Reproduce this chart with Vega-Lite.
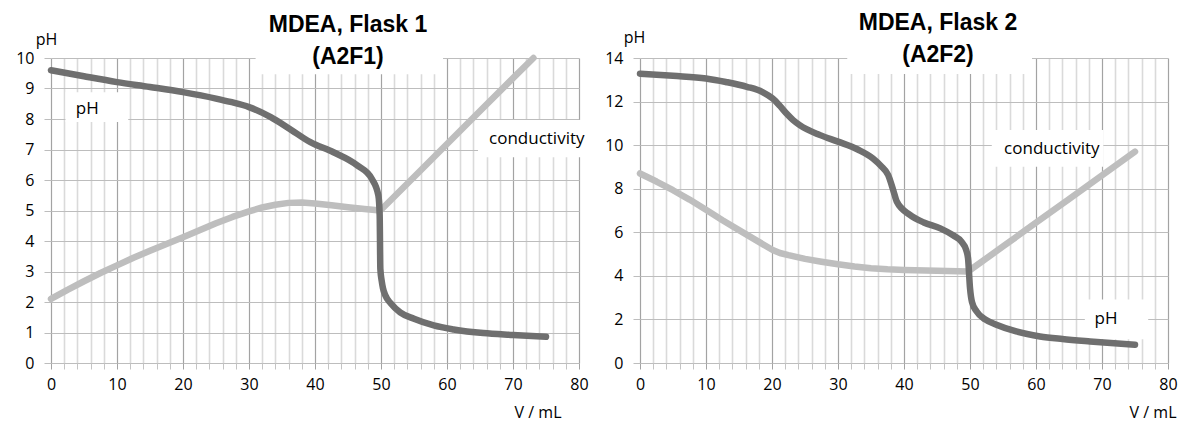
{
  "$schema": "https://vega.github.io/schema/vega-lite/v6.json",
  "background": "white",
  "padding": {"left": 15, "top": 12, "right": 5, "bottom": 5},
  "bounds": "flush",
  "spacing": 61,
  "config": {
    "view": {"stroke": null},
    "font": "Open Sans",
    "axis": {
      "domain": false,
      "grid": true,
      "labelFont": "Open Sans",
      "labelFontSize": 16,
      "labelColor": "#000000",
      "titleFont": "Open Sans",
      "titleFontSize": 16,
      "titleFontWeight": "normal",
      "titleColor": "#000000"
    },
    "axisX": {
      "gridColor": {"condition": {"test": "datum.value % 10 === 0", "value": "#a3a3a3"}, "value": "#dadada"},
      "gridWidth": {"condition": {"test": "datum.value % 10 === 0", "value": 1.2}, "value": 1.6},
      "tickColor": {"condition": {"test": "datum.value % 10 === 0", "value": "#a3a3a3"}, "value": "#c4c4c4"},
      "tickSize": 6,
      "labelPadding": 7,
      "labelExpr": "datum.value % 10 === 0 ? datum.label : ''",
      "labelFlush": false,
      "labelOverlap": false,
      "titleAlign": "right",
      "titleBaseline": "middle",
      "titleY": 49
    },
    "axisY": {
      "gridColor": "#bdbdbd",
      "gridWidth": 1.2,
      "tickColor": "#bdbdbd",
      "tickSize": 7,
      "labelPadding": 10,
      "titleAngle": 0,
      "titleAlign": "center",
      "titleBaseline": "middle"
    }
  },
  "datasets": {
    "flask1": [
      {"V": 0, "value": 9.6, "series": "pH"},
      {"V": 5, "value": 9.4, "series": "pH"},
      {"V": 10, "value": 9.21, "series": "pH"},
      {"V": 15, "value": 9.05, "series": "pH"},
      {"V": 20, "value": 8.88, "series": "pH"},
      {"V": 25, "value": 8.67, "series": "pH"},
      {"V": 27.2, "value": 8.56, "series": "pH"},
      {"V": 30, "value": 8.39, "series": "pH"},
      {"V": 33.3, "value": 8.06, "series": "pH"},
      {"V": 36, "value": 7.7, "series": "pH"},
      {"V": 39.3, "value": 7.24, "series": "pH"},
      {"V": 42.8, "value": 6.91, "series": "pH"},
      {"V": 46.4, "value": 6.48, "series": "pH"},
      {"V": 48.6, "value": 6.04, "series": "pH"},
      {"V": 49.6, "value": 5.5, "series": "pH"},
      {"V": 49.8, "value": 4.85, "series": "pH"},
      {"V": 49.9, "value": 3.09, "series": "pH"},
      {"V": 50.1, "value": 2.7, "series": "pH"},
      {"V": 50.3, "value": 2.45, "series": "pH"},
      {"V": 50.65, "value": 2.22, "series": "pH"},
      {"V": 51.5, "value": 1.95, "series": "pH"},
      {"V": 52.9, "value": 1.66, "series": "pH"},
      {"V": 55, "value": 1.45, "series": "pH"},
      {"V": 58, "value": 1.23, "series": "pH"},
      {"V": 61, "value": 1.1, "series": "pH"},
      {"V": 65.5, "value": 0.98, "series": "pH"},
      {"V": 70, "value": 0.92, "series": "pH"},
      {"V": 75, "value": 0.86, "series": "pH"},
      {"V": 0, "value": 2.1, "series": "conductivity"},
      {"V": 2.5, "value": 2.4, "series": "conductivity"},
      {"V": 5, "value": 2.68, "series": "conductivity"},
      {"V": 7.5, "value": 2.95, "series": "conductivity"},
      {"V": 10, "value": 3.2, "series": "conductivity"},
      {"V": 12.5, "value": 3.45, "series": "conductivity"},
      {"V": 15, "value": 3.68, "series": "conductivity"},
      {"V": 17.5, "value": 3.9, "series": "conductivity"},
      {"V": 20, "value": 4.12, "series": "conductivity"},
      {"V": 22.5, "value": 4.35, "series": "conductivity"},
      {"V": 25, "value": 4.58, "series": "conductivity"},
      {"V": 27.5, "value": 4.79, "series": "conductivity"},
      {"V": 30, "value": 4.97, "series": "conductivity"},
      {"V": 32, "value": 5.1, "series": "conductivity"},
      {"V": 34, "value": 5.19, "series": "conductivity"},
      {"V": 36, "value": 5.25, "series": "conductivity"},
      {"V": 38, "value": 5.26, "series": "conductivity"},
      {"V": 40, "value": 5.23, "series": "conductivity"},
      {"V": 42.5, "value": 5.17, "series": "conductivity"},
      {"V": 45, "value": 5.11, "series": "conductivity"},
      {"V": 47.5, "value": 5.05, "series": "conductivity"},
      {"V": 49.9, "value": 5.0, "series": "conductivity"},
      {"V": 55, "value": 6.1, "series": "conductivity"},
      {"V": 60, "value": 7.18, "series": "conductivity"},
      {"V": 65, "value": 8.26, "series": "conductivity"},
      {"V": 70, "value": 9.34, "series": "conductivity"},
      {"V": 73.1, "value": 10.0, "series": "conductivity"}
    ],
    "flask2": [
      {"V": 0, "value": 13.28, "series": "pH"},
      {"V": 5, "value": 13.18, "series": "pH"},
      {"V": 10, "value": 13.06, "series": "pH"},
      {"V": 13, "value": 12.9, "series": "pH"},
      {"V": 16.2, "value": 12.68, "series": "pH"},
      {"V": 18.5, "value": 12.45, "series": "pH"},
      {"V": 20.1, "value": 12.14, "series": "pH"},
      {"V": 21.2, "value": 11.8, "series": "pH"},
      {"V": 22.2, "value": 11.45, "series": "pH"},
      {"V": 23.2, "value": 11.15, "series": "pH"},
      {"V": 24.2, "value": 10.92, "series": "pH"},
      {"V": 27.3, "value": 10.46, "series": "pH"},
      {"V": 30, "value": 10.16, "series": "pH"},
      {"V": 33, "value": 9.8, "series": "pH"},
      {"V": 35.3, "value": 9.39, "series": "pH"},
      {"V": 36.5, "value": 9.05, "series": "pH"},
      {"V": 37.6, "value": 8.63, "series": "pH"},
      {"V": 38.4, "value": 7.9, "series": "pH"},
      {"V": 38.9, "value": 7.41, "series": "pH"},
      {"V": 40.9, "value": 6.8, "series": "pH"},
      {"V": 43, "value": 6.45, "series": "pH"},
      {"V": 45.5, "value": 6.18, "series": "pH"},
      {"V": 47.5, "value": 5.85, "series": "pH"},
      {"V": 48.7, "value": 5.57, "series": "pH"},
      {"V": 49.4, "value": 5.2, "series": "pH"},
      {"V": 49.7, "value": 4.81, "series": "pH"},
      {"V": 50, "value": 3.44, "series": "pH"},
      {"V": 50.3, "value": 2.8, "series": "pH"},
      {"V": 51, "value": 2.37, "series": "pH"},
      {"V": 52.3, "value": 2.0, "series": "pH"},
      {"V": 54, "value": 1.76, "series": "pH"},
      {"V": 57, "value": 1.45, "series": "pH"},
      {"V": 60.6, "value": 1.22, "series": "pH"},
      {"V": 64, "value": 1.1, "series": "pH"},
      {"V": 68.2, "value": 0.99, "series": "pH"},
      {"V": 75, "value": 0.84, "series": "pH"},
      {"V": 0, "value": 8.7, "series": "conductivity"},
      {"V": 2.5, "value": 8.33, "series": "conductivity"},
      {"V": 5, "value": 7.93, "series": "conductivity"},
      {"V": 7.5, "value": 7.5, "series": "conductivity"},
      {"V": 10, "value": 7.03, "series": "conductivity"},
      {"V": 12.5, "value": 6.55, "series": "conductivity"},
      {"V": 15, "value": 6.1, "series": "conductivity"},
      {"V": 17.5, "value": 5.65, "series": "conductivity"},
      {"V": 20.1, "value": 5.19, "series": "conductivity"},
      {"V": 21.2, "value": 5.05, "series": "conductivity"},
      {"V": 22.5, "value": 4.95, "series": "conductivity"},
      {"V": 25, "value": 4.78, "series": "conductivity"},
      {"V": 27.5, "value": 4.65, "series": "conductivity"},
      {"V": 30, "value": 4.53, "series": "conductivity"},
      {"V": 32.5, "value": 4.43, "series": "conductivity"},
      {"V": 35, "value": 4.35, "series": "conductivity"},
      {"V": 37.5, "value": 4.3, "series": "conductivity"},
      {"V": 40, "value": 4.27, "series": "conductivity"},
      {"V": 45, "value": 4.23, "series": "conductivity"},
      {"V": 49.7, "value": 4.2, "series": "conductivity"},
      {"V": 55, "value": 5.35, "series": "conductivity"},
      {"V": 60, "value": 6.44, "series": "conductivity"},
      {"V": 65, "value": 7.52, "series": "conductivity"},
      {"V": 70, "value": 8.61, "series": "conductivity"},
      {"V": 75, "value": 9.7, "series": "conductivity"}
    ],
    "one": [{}]
  },
  "hconcat": [
    {
      "width": 528,
      "height": 305,
      "title": {
        "text": ["MDEA, Flask 1", "(A2F1)"],
        "font": "Liberation Sans",
        "fontSize": 23,
        "fontWeight": "bold",
        "color": "#000000",
        "anchor": "middle",
        "dx": 33,
        "offset": -38,
        "lineHeight": 32
      },
      "layer": [
        {
          "data": {"name": "one"},
          "mark": {"type": "rect", "fill": "white"},
          "encoding": {
            "x": {"datum": 31, "type": "quantitative", "scale": {"domain": [0, 80], "nice": false, "zero": false}, "axis": {"values": [0,2,4,6,8,10,12,14,16,18,20,22,24,26,28,30,32,34,36,38,40,42,44,46,48,50,52,54,56,58,60,62,64,66,68,70,72,74,76,78,80], "title": "V / mL", "titleX": 510}},
            "x2": {"datum": 59.4},
            "y": {"datum": 9.47, "type": "quantitative", "scale": {"domain": [0, 10], "nice": false, "zero": false}, "axis": {"values": [0,1,2,3,4,5,6,7,8,9,10], "title": "pH", "titleX": -5, "titleY": -19}},
            "y2": {"datum": 10}
          }
        },
        {
          "data": {"name": "one"},
          "mark": {"type": "rect", "fill": "white"},
          "encoding": {
            "x": {"datum": 2.2, "type": "quantitative", "axis": {"values": [0,2,4,6,8,10,12,14,16,18,20,22,24,26,28,30,32,34,36,38,40,42,44,46,48,50,52,54,56,58,60,62,64,66,68,70,72,74,76,78,80], "title": "V / mL", "titleX": 510}},
            "x2": {"datum": 11.7},
            "y": {"datum": 7.9, "type": "quantitative", "axis": {"values": [0,1,2,3,4,5,6,7,8,9,10], "title": "pH", "titleX": -5, "titleY": -19}},
            "y2": {"datum": 8.88}
          }
        },
        {
          "data": {"name": "one"},
          "mark": {"type": "rect", "fill": "white"},
          "encoding": {
            "x": {"datum": 64.7, "type": "quantitative", "axis": {"values": [0,2,4,6,8,10,12,14,16,18,20,22,24,26,28,30,32,34,36,38,40,42,44,46,48,50,52,54,56,58,60,62,64,66,68,70,72,74,76,78,80], "title": "V / mL", "titleX": 510}},
            "x2": {"datum": 81.8},
            "y": {"datum": 6.75, "type": "quantitative", "axis": {"values": [0,1,2,3,4,5,6,7,8,9,10], "title": "pH", "titleX": -5, "titleY": -19}},
            "y2": {"datum": 7.97}
          }
        },
        {
          "data": {"name": "flask1"},
          "transform": [{"filter": "datum.series === 'conductivity'"}],
          "mark": {"type": "line", "strokeWidth": 6.5, "strokeCap": "round", "strokeJoin": "round", "interpolate": "linear"},
          "encoding": {
            "x": {"field": "V", "type": "quantitative", "axis": {"values": [0,2,4,6,8,10,12,14,16,18,20,22,24,26,28,30,32,34,36,38,40,42,44,46,48,50,52,54,56,58,60,62,64,66,68,70,72,74,76,78,80], "title": "V / mL", "titleX": 510}},
            "y": {"field": "value", "type": "quantitative", "axis": {"values": [0,1,2,3,4,5,6,7,8,9,10], "title": "pH", "titleX": -5, "titleY": -19}},
            "color": {
              "field": "series", "type": "nominal",
              "scale": {"domain": ["conductivity", "pH"], "range": ["#bebebe", "#6f6f6f"]},
              "legend": null
            },
            "order": {"field": "V", "type": "quantitative"}
          }
        },
        {
          "data": {"name": "flask1"},
          "transform": [{"filter": "datum.series === 'pH'"}],
          "mark": {"type": "line", "strokeWidth": 6.5, "strokeCap": "round", "strokeJoin": "round", "interpolate": "monotone"},
          "encoding": {
            "x": {"field": "V", "type": "quantitative", "axis": {"values": [0,2,4,6,8,10,12,14,16,18,20,22,24,26,28,30,32,34,36,38,40,42,44,46,48,50,52,54,56,58,60,62,64,66,68,70,72,74,76,78,80], "title": "V / mL", "titleX": 510}},
            "y": {"field": "value", "type": "quantitative", "axis": {"values": [0,1,2,3,4,5,6,7,8,9,10], "title": "pH", "titleX": -5, "titleY": -19}},
            "color": {
              "field": "series", "type": "nominal",
              "scale": {"domain": ["conductivity", "pH"], "range": ["#bebebe", "#6f6f6f"]},
              "legend": null
            },
            "order": {"field": "V", "type": "quantitative"}
          }
        },
        {
          "data": {"name": "one"},
          "mark": {"type": "text", "text": "pH", "font": "Open Sans", "fontSize": 17, "color": "#000000"},
          "encoding": {
            "x": {"datum": 5.5, "type": "quantitative", "axis": {"values": [0,2,4,6,8,10,12,14,16,18,20,22,24,26,28,30,32,34,36,38,40,42,44,46,48,50,52,54,56,58,60,62,64,66,68,70,72,74,76,78,80], "title": "V / mL", "titleX": 510}},
            "y": {"datum": 8.33, "type": "quantitative", "axis": {"values": [0,1,2,3,4,5,6,7,8,9,10], "title": "pH", "titleX": -5, "titleY": -19}}
          }
        },
        {
          "data": {"name": "one"},
          "mark": {"type": "text", "text": "conductivity", "font": "Open Sans", "fontSize": 17, "color": "#000000"},
          "encoding": {
            "x": {"datum": 73.6, "type": "quantitative", "axis": {"values": [0,2,4,6,8,10,12,14,16,18,20,22,24,26,28,30,32,34,36,38,40,42,44,46,48,50,52,54,56,58,60,62,64,66,68,70,72,74,76,78,80], "title": "V / mL", "titleX": 510}},
            "y": {"datum": 7.34, "type": "quantitative", "axis": {"values": [0,1,2,3,4,5,6,7,8,9,10], "title": "pH", "titleX": -5, "titleY": -19}}
          }
        }
      ]
    },
    {
      "width": 528,
      "height": 305,
      "title": {
        "text": ["MDEA, Flask 2", "(A2F2)"],
        "font": "Liberation Sans",
        "fontSize": 23,
        "fontWeight": "bold",
        "color": "#000000",
        "anchor": "middle",
        "dx": 34,
        "offset": -38,
        "lineHeight": 32
      },
      "layer": [
        {
          "data": {"name": "one"},
          "mark": {"type": "rect", "fill": "white"},
          "encoding": {
            "x": {"datum": 31.4, "type": "quantitative", "scale": {"domain": [0, 80], "nice": false, "zero": false}, "axis": {"values": [0,2,4,6,8,10,12,14,16,18,20,22,24,26,28,30,32,34,36,38,40,42,44,46,48,50,52,54,56,58,60,62,64,66,68,70,72,74,76,78,80], "title": "V / mL", "titleX": 536}},
            "x2": {"datum": 59.4},
            "y": {"datum": 13.27, "type": "quantitative", "scale": {"domain": [0, 14], "nice": false, "zero": false}, "axis": {"values": [0,2,4,6,8,10,12,14], "title": "pH", "titleX": -6, "titleY": -21}},
            "y2": {"datum": 14}
          }
        },
        {
          "data": {"name": "one"},
          "mark": {"type": "rect", "fill": "white"},
          "encoding": {
            "x": {"datum": 53.3, "type": "quantitative", "axis": {"values": [0,2,4,6,8,10,12,14,16,18,20,22,24,26,28,30,32,34,36,38,40,42,44,46,48,50,52,54,56,58,60,62,64,66,68,70,72,74,76,78,80], "title": "V / mL", "titleX": 536}},
            "x2": {"datum": 70.2},
            "y": {"datum": 9.01, "type": "quantitative", "axis": {"values": [0,2,4,6,8,10,12,14], "title": "pH", "titleX": -6, "titleY": -21}},
            "y2": {"datum": 10.7}
          }
        },
        {
          "data": {"name": "one"},
          "mark": {"type": "rect", "fill": "white"},
          "encoding": {
            "x": {"datum": 67.4, "type": "quantitative", "axis": {"values": [0,2,4,6,8,10,12,14,16,18,20,22,24,26,28,30,32,34,36,38,40,42,44,46,48,50,52,54,56,58,60,62,64,66,68,70,72,74,76,78,80], "title": "V / mL", "titleX": 536}},
            "x2": {"datum": 77},
            "y": {"datum": 1.09, "type": "quantitative", "axis": {"values": [0,2,4,6,8,10,12,14], "title": "pH", "titleX": -6, "titleY": -21}},
            "y2": {"datum": 2.92}
          }
        },
        {
          "data": {"name": "flask2"},
          "transform": [{"filter": "datum.series === 'conductivity'"}],
          "mark": {"type": "line", "strokeWidth": 6.5, "strokeCap": "round", "strokeJoin": "round", "interpolate": "linear"},
          "encoding": {
            "x": {"field": "V", "type": "quantitative", "axis": {"values": [0,2,4,6,8,10,12,14,16,18,20,22,24,26,28,30,32,34,36,38,40,42,44,46,48,50,52,54,56,58,60,62,64,66,68,70,72,74,76,78,80], "title": "V / mL", "titleX": 536}},
            "y": {"field": "value", "type": "quantitative", "axis": {"values": [0,2,4,6,8,10,12,14], "title": "pH", "titleX": -6, "titleY": -21}},
            "color": {
              "field": "series", "type": "nominal",
              "scale": {"domain": ["conductivity", "pH"], "range": ["#bebebe", "#6f6f6f"]},
              "legend": null
            },
            "order": {"field": "V", "type": "quantitative"}
          }
        },
        {
          "data": {"name": "flask2"},
          "transform": [{"filter": "datum.series === 'pH'"}],
          "mark": {"type": "line", "strokeWidth": 6.5, "strokeCap": "round", "strokeJoin": "round", "interpolate": "monotone"},
          "encoding": {
            "x": {"field": "V", "type": "quantitative", "axis": {"values": [0,2,4,6,8,10,12,14,16,18,20,22,24,26,28,30,32,34,36,38,40,42,44,46,48,50,52,54,56,58,60,62,64,66,68,70,72,74,76,78,80], "title": "V / mL", "titleX": 536}},
            "y": {"field": "value", "type": "quantitative", "axis": {"values": [0,2,4,6,8,10,12,14], "title": "pH", "titleX": -6, "titleY": -21}},
            "color": {
              "field": "series", "type": "nominal",
              "scale": {"domain": ["conductivity", "pH"], "range": ["#bebebe", "#6f6f6f"]},
              "legend": null
            },
            "order": {"field": "V", "type": "quantitative"}
          }
        },
        {
          "data": {"name": "one"},
          "mark": {"type": "text", "text": "conductivity", "font": "Open Sans", "fontSize": 17, "color": "#000000"},
          "encoding": {
            "x": {"datum": 62.4, "type": "quantitative", "axis": {"values": [0,2,4,6,8,10,12,14,16,18,20,22,24,26,28,30,32,34,36,38,40,42,44,46,48,50,52,54,56,58,60,62,64,66,68,70,72,74,76,78,80], "title": "V / mL", "titleX": 536}},
            "y": {"datum": 9.82, "type": "quantitative", "axis": {"values": [0,2,4,6,8,10,12,14], "title": "pH", "titleX": -6, "titleY": -21}}
          }
        },
        {
          "data": {"name": "one"},
          "mark": {"type": "text", "text": "pH", "font": "Open Sans", "fontSize": 17, "color": "#000000"},
          "encoding": {
            "x": {"datum": 70.6, "type": "quantitative", "axis": {"values": [0,2,4,6,8,10,12,14,16,18,20,22,24,26,28,30,32,34,36,38,40,42,44,46,48,50,52,54,56,58,60,62,64,66,68,70,72,74,76,78,80], "title": "V / mL", "titleX": 536}},
            "y": {"datum": 2.0, "type": "quantitative", "axis": {"values": [0,2,4,6,8,10,12,14], "title": "pH", "titleX": -6, "titleY": -21}}
          }
        }
      ]
    }
  ]
}
